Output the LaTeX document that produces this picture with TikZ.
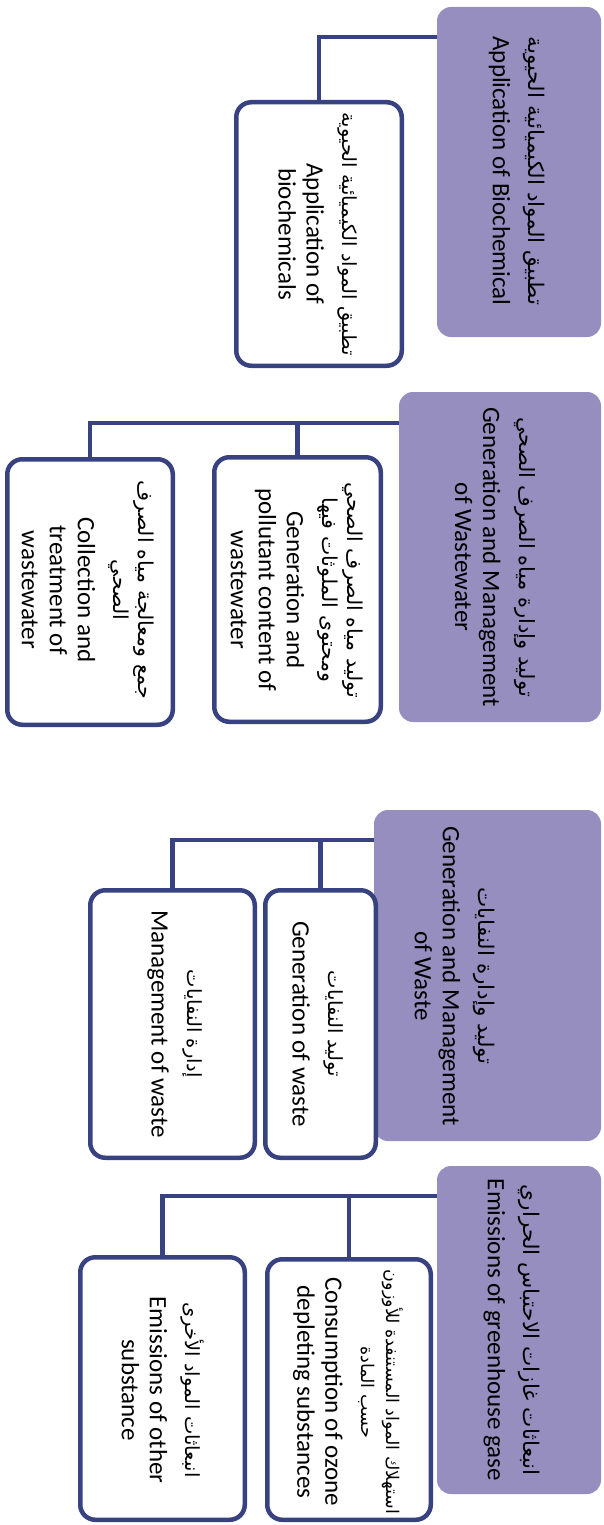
\documentclass[tikz,border=0pt]{standalone}
\usepackage{fontspec}
\setmainfont{Carlito}
\newfontfamily\arabicfont[Script=Arabic]{DejaVu Sans}
\TeXXeTstate=1
\newcommand\AR[2][19.5]{{\arabicfont\fontsize{#1}{25}\selectfont\beginR #2\endR}}
\definecolor{navy}{HTML}{384280}
\definecolor{lilac}{HTML}{958EBE}
\tikzset{
  pbox/.style={fill=lilac, draw=none, rounded corners=14pt, inner sep=0pt},
  wbox/.style={fill=white, draw=navy, line width=4.5pt, rounded corners=15pt, inner sep=0pt},
  conn/.style={draw=navy, line width=4.5pt},
  txt/.style={rotate=-90, align=center, inner sep=0pt, text=black, font={\fontsize{25}{28}\selectfont}}
}
\begin{document}
\begin{tikzpicture}[x=1pt,y=-1pt]
\useasboundingbox (0,0) rectangle (603,1525);
% group 1
\node[pbox, minimum width=164pt, minimum height=330pt] (P1) at (519,172) {};
\coordinate (h1) at (0,37);
\node[wbox, minimum width=165.5pt, minimum height=263.5pt] (W1) at (319,234) {};
\draw[conn] (P1.west |- h1) -| (W1.north);
% group 2
\node[pbox, minimum width=202pt, minimum height=330pt] (P2) at (500,557) {};
\coordinate (h2) at (0,423);
\node[wbox, minimum width=166.5pt, minimum height=264.5pt] (W2a) at (297.5,589.5) {};
\node[wbox, minimum width=165.5pt, minimum height=265.5pt] (W2b) at (90,592) {};
\draw[conn] (P2.west |- h2) -| (W2b.north);
\draw[conn] (W2a.north |- h2) -- (W2a.north);
% group 3
\node[pbox, minimum width=227pt, minimum height=331pt] (P3) at (487.5,975.5) {};
\coordinate (h3) at (0,840);
\node[wbox, minimum width=110.5pt, minimum height=267.5pt] (W3a) at (320.5,1024) {};
\node[wbox, minimum width=164.5pt, minimum height=267.5pt] (W3b) at (172.5,1024) {};
\draw[conn] (P3.west |- h3) -| (W3b.north);
\draw[conn] (W3a.north |- h3) -- (W3a.north);
% group 4
\node[pbox, minimum width=164pt, minimum height=328pt] (P4) at (519,1330) {};
\coordinate (h4) at (0,1196);
\node[wbox, minimum width=163.5pt, minimum height=260.5pt] (W4a) at (349,1389.5) {};
\node[wbox, minimum width=164.5pt, minimum height=262.5pt] (W4b) at (162.5,1388.5) {};
\draw[conn] (P4.west |- h4) -| (W4b.north);
\draw[conn] (W4a.north |- h4) -- (W4a.north);
% texts
\node[txt] (tP1) at (517,171) {\AR[21.5]{تطبيق المواد الكيميائية الحيوية}\\[8pt] Application of Biochemical};
\node[txt] (tW1) at (318,234) {\AR{تطبيق المواد الكيميائية الحيوية}\\[8pt] Application of\\ biochemicals};
\node[txt] (tP2) at (495,557) {\AR[21]{توليد وإدارة مياه الصرف الصحي}\\[8pt] Generation and Management\\ of Wastewater};
\node[txt] (tW2a) at (297,590) {\AR[20.5]{توليد مياه الصرف الصحي}\\[-3pt] \AR[20.5]{ومحتوى الملوثات فيها}\\[8pt] Generation and\\ pollutant content of\\ wastewater};
\node[txt] (tW2b) at (88,590) {\AR[20.5]{جمع ومعالجة مياه الصرف}\\[-3pt] \AR[20.5]{الصحي}\\[8pt] Collection and\\ treatment of\\ wastewater};
\node[txt] (tP3) at (455,976) {\AR[21.5]{توليد وإدارة النفايات}\\[8pt] Generation and Management\\ of Waste};
\node[txt] (tW3a) at (318,1024) {\AR{توليد النفايات}\\[8pt] Generation of waste};
\node[txt] (tW3b) at (175,1024) {\AR{إدارة النفايات}\\[8pt] Management of waste};
\node[txt] (tP4) at (512,1330) {\AR[21.5]{انبعاثات غازات الاحتباس الحراري}\\[8pt] Emissions of greenhouse gase};
\node[txt] (tW4a) at (348,1392) {\AR[17.5]{استهلاك المواد المستنفدة للأوزون}\\[-3pt] \AR[17.5]{حسب المادة}\\[8pt] Consumption of ozone\\ depleting substances};
\node[txt] (tW4b) at (163,1390) {\AR{انبعاثات المواد الأخرى}\\[8pt] Emissions of other\\ substance};
\end{tikzpicture}
\end{document}
